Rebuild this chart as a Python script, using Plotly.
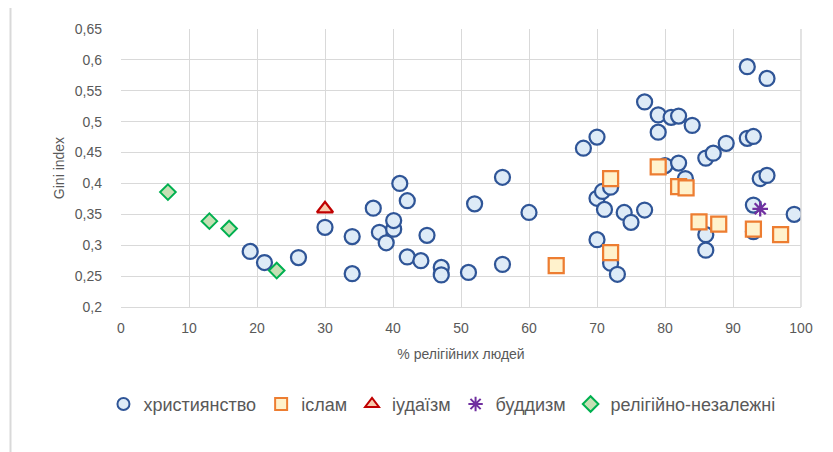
import plotly.graph_objects as go

# ---- data ----
christ_x = [19.0, 21.1, 26.1, 30.0, 34.0, 34.0, 37.1, 38.0, 39.0, 40.1, 40.1, 41.0, 42.1, 42.1,
            44.1, 45.0, 47.1, 47.1, 51.1, 52.0, 56.1, 56.1, 60.0, 68.0, 70.0, 70.0, 70.0, 70.8,
            71.1, 72.0, 72.0, 73.0, 74.0, 75.0, 77.0, 77.0, 79.0, 79.0, 80.0, 80.9, 82.0, 82.0,
            83.0, 84.0, 86.0, 86.0, 86.0, 87.1, 89.0, 92.1, 92.1, 93.0, 93.0, 93.0, 94.0, 95.0,
            95.0, 99.0]
christ_y = [0.290, 0.272, 0.280, 0.329, 0.314, 0.254, 0.360, 0.321, 0.304, 0.326, 0.340, 0.400,
            0.372, 0.281, 0.275, 0.316, 0.264, 0.252, 0.256, 0.367, 0.410, 0.269, 0.353, 0.457,
            0.475, 0.376, 0.309, 0.387, 0.358, 0.394, 0.271, 0.253, 0.353, 0.337, 0.357, 0.532,
            0.511, 0.483, 0.429, 0.507, 0.509, 0.433, 0.408, 0.494, 0.441, 0.317, 0.292, 0.449,
            0.465, 0.589, 0.473, 0.476, 0.365, 0.322, 0.408, 0.570, 0.413, 0.350]

islam_x = [64.0, 72.0, 72.0, 79.0, 82.0, 83.1, 85.0, 87.9, 93.0, 97.0]
islam_y = [0.267, 0.408, 0.288, 0.427, 0.395, 0.393, 0.338, 0.334, 0.326, 0.317]

jud_x = [30.0]
jud_y = [0.359]

budd_x = [94.0]
budd_y = [0.359]

indep_x = [6.9, 13.0, 15.9, 22.9]
indep_y = [0.386, 0.339, 0.327, 0.259]

y_ticks = [0.2, 0.25, 0.3, 0.35, 0.4, 0.45, 0.5, 0.55, 0.6, 0.65]
y_tick_labels = ["0,2", "0,25", "0,3", "0,35", "0,4", "0,45", "0,5", "0,55", "0,6", "0,65"]
x_ticks = [0, 10, 20, 30, 40, 50, 60, 70, 80, 90, 100]

names = ["християнство", "іслам", "іудаїзм", "буддизм", "релігійно-незалежні"]

FONT = "Liberation Sans Narrow, Liberation Sans, Arial, sans-serif"
GRAY = "#595959"
GRID = "#D9D9D9"

fig = go.Figure()
fig.add_trace(go.Scatter(x=christ_x, y=christ_y, mode="markers", name=names[0],
                         marker=dict(symbol="circle", size=15, color="#DEEBF7",
                                     line=dict(color="#2F5597", width=2.25))))
fig.add_trace(go.Scatter(x=islam_x, y=islam_y, mode="markers", name=names[1],
                         marker=dict(symbol="square", size=15, color="#FFF2CC",
                                     line=dict(color="#ED7D31", width=2.25))))
fig.add_trace(go.Scatter(x=jud_x, y=jud_y, mode="markers", name=names[2],
                         marker=dict(symbol="triangle-up", size=14, color="#F8CBAD",
                                     line=dict(color="#C00000", width=2.25))))
fig.add_trace(go.Scatter(x=budd_x, y=budd_y, mode="markers", name=names[3],
                         marker=dict(symbol="asterisk-open", size=13, color="#7030A0",
                                     line=dict(color="#7030A0", width=2.25))))
fig.add_trace(go.Scatter(x=indep_x, y=indep_y, mode="markers", name=names[4],
                         marker=dict(symbol="diamond", size=12, color="#C5E0B4",
                                     line=dict(color="#00B050", width=2))))

fig.update_layout(
    width=833, height=452,
    margin=dict(l=113, r=40, t=21, b=153),
    paper_bgcolor="white", plot_bgcolor="white",
    font=dict(family=FONT, color=GRAY, size=14),
    showlegend=True,
    legend=dict(orientation="h", x=0.472, xanchor="center", y=-0.35, yanchor="middle",
                font=dict(size=18, color=GRAY), itemsizing="constant",
                traceorder="normal"),
    xaxis=dict(range=[0, 100], tickvals=x_ticks, showgrid=True, gridcolor=GRID, gridwidth=1,
               showline=True, linecolor=GRID, linewidth=1, zeroline=False, ticks="",
               tickfont=dict(size=14, color=GRAY), ticklabelstandoff=8,
               title=dict(text="% релігійних людей", font=dict(size=14, color=GRAY), standoff=14)),
    yaxis=dict(range=[0.2, 0.65], tickvals=y_ticks, ticktext=y_tick_labels, showgrid=True,
               gridcolor=GRID, gridwidth=1, zeroline=False, showline=False, ticks="",
               tickfont=dict(size=14, color=GRAY), ticklabelstandoff=18,
               title=dict(text="Gini index", font=dict(size=14, color=GRAY), standoff=6)),
    shapes=[
        dict(type="rect", xref="paper", yref="paper", x0=1, x1=1, y0=0, y1=1,
             line=dict(color=GRID, width=1)),
        dict(type="rect", xref="paper", yref="paper", x0=-0.1625, x1=1.06, y0=-0.56, y1=1.093,
             line=dict(color="#D9D9D9", width=2), layer="below"),
    ],
)

fig.write_html("out.html")
